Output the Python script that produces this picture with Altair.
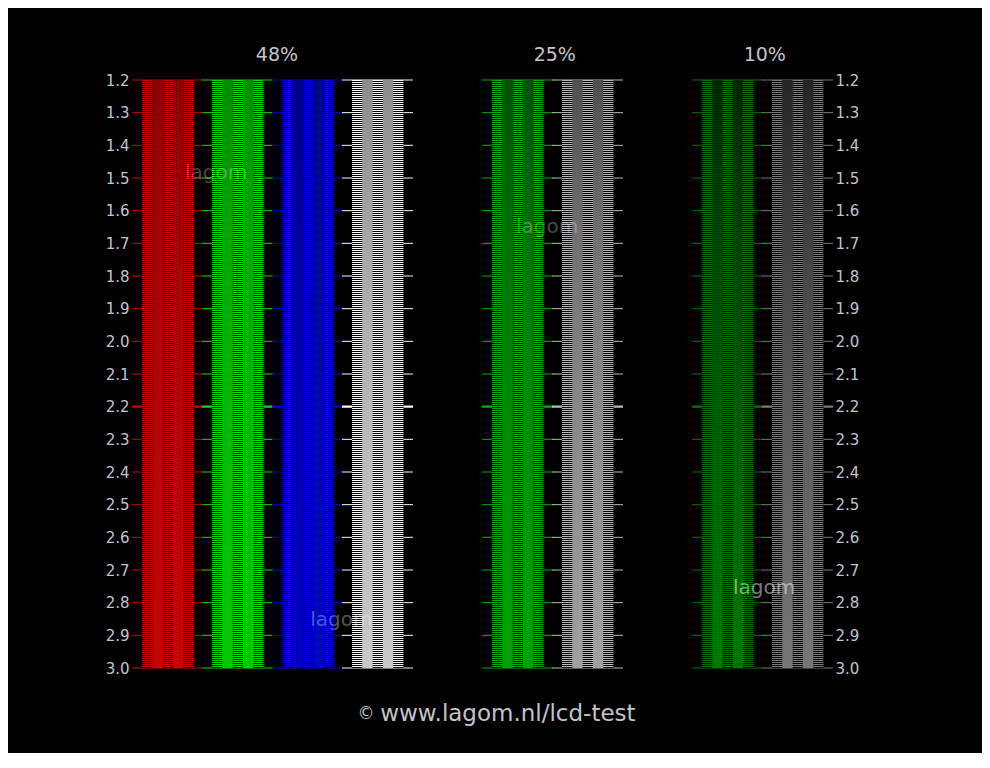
import altair as alt
import pandas as pd

# ---- data ----
levels = [1.2, 1.3, 1.4, 1.5, 1.6, 1.7, 1.8, 1.9, 2.0, 2.1, 2.2,
          2.3, 2.4, 2.5, 2.6, 2.7, 2.8, 2.9, 3.0]
groups = ["48%", "25%", "10%"]
group_title_x = [2.07, 6.04, 9.04]          # slot units

col_group = ["48%", "48%", "48%", "48%", "25%", "25%", "10%", "10%"]
col_slot = [0, 1, 2, 3, 5, 6, 8, 9]
col_channel = ["red", "green", "blue", "white", "green", "white", "green", "white"]

# stripe line intensity (0-255) per column
col_stripe = [205, 225, 215, 250, 175, 186, 118, 122]
# solid band intensity per group at gamma 1.2 / 1.7 / 2.2 / 3.0
solid_at_12 = [140, 80, 37]
solid_at_17 = [166, 113, 66]
solid_at_22 = [183, 136, 89]
solid_at_30 = [200, 160, 118]
stop_gammas = [1.2, 1.7, 2.2, 3.0]

marks_text = ["lagom", "lagom", "lagom", "lagom"]
marks_x = [1.2, 5.93, 2.99, 9.03]
marks_y = [1.485, 1.65, 2.853, 2.755]
marks_op = [0.28, 0.28, 0.33, 0.48]

footer_text = ["\u00a9", "www.lagom.nl/lcd-test"]
footer_x = [3.343, 5.37]
footer_size = [17, 23]

# ---- layout constants (slot = 70 px) ----
COL_OFF = 10 / 70
COL_W = 51.5 / 70
SUB = COL_W / 5
GRID_W = 71 / 70
YMIN, YMAX = levels[0], levels[-1]
LABEL = "#c4c4c4"
FONT = "DejaVu Sans"


def rgb(channel, v):
    r, g, b = {"red": (v, 0, 0), "green": (0, v, 0),
               "blue": (0, 0, v), "white": (v, v, v)}[channel]
    return "#{:02x}{:02x}{:02x}".format(r, g, b)


gi = {g: i for i, g in enumerate(groups)}

cols = pd.DataFrame({"group": col_group, "slot": col_slot, "ch": col_channel,
                     "lv": col_stripe})
cols["stripe"] = [rgb(c, v) for c, v in zip(cols.ch, cols.lv)]
cols["x0"] = cols.slot + COL_OFF
cols["x1"] = cols.x0 + COL_W
cols["xc"] = cols.x0 + COL_W / 2
cols["y0"] = YMIN
cols["y1"] = YMAX

grid_rows = []
for _, c in cols.iterrows():
    for lv in levels:
        grid_rows.append({"x": c.slot, "x2": c.slot + GRID_W, "y": lv,
                          "color": c.stripe, "w": 2.2 if abs(lv - 2.2) < 1e-9 else 1.0})
grid = pd.DataFrame(grid_rows)

yscale = alt.Scale(domain=[YMIN, YMAX], reverse=True, nice=False, zero=False)
xscale = alt.Scale(domain=[0, 10], nice=False, zero=False)

axis_common = dict(values=levels, format=".1f", labelColor=LABEL, labelFontSize=15,
                   labelFont=FONT, ticks=False, domain=False, grid=False,
                   labelPadding=3, labelFlush=False, labelOverlap=False, title=None)

grid_layer = alt.Chart(grid).mark_rule().encode(
    x=alt.X("x:Q", scale=xscale, axis=None),
    x2="x2:Q",
    y=alt.Y("y:Q", scale=yscale, axis=alt.Axis(orient="left", **axis_common)),
    color=alt.Color("color:N", scale=None),
    strokeWidth=alt.StrokeWidth("w:Q", scale=None),
)

black_layer = alt.Chart(cols).mark_rect(color="black").encode(
    x=alt.X("x0:Q", scale=xscale, axis=None),
    x2="x1:Q",
    y=alt.Y("y0:Q", scale=yscale, axis=alt.Axis(orient="right", **axis_common)),
    y2="y1:Q",
)

stripe_layer = alt.Chart(cols).mark_rule(strokeDash=[1, 1], strokeWidth=51.5, strokeCap="butt").encode(
    x=alt.X("xc:Q", scale=xscale, axis=None),
    y=alt.Y("y0:Q", axis=None),
    y2="y1:Q",
    color=alt.Color("stripe:N", scale=None),
)

solid_layers = []
for _, c in cols.iterrows():
    k = gi[c.group]
    vals = [solid_at_12[k], solid_at_17[k], solid_at_22[k], solid_at_30[k]]
    stops = [alt.GradientStop(color=rgb(c.ch, v), offset=(g - YMIN) / (YMAX - YMIN))
             for v, g in zip(vals, stop_gammas)]
    d = pd.DataFrame({"x0": [c.x0 + SUB, c.x0 + 3 * SUB],
                      "x1": [c.x0 + 2 * SUB, c.x0 + 4 * SUB],
                      "y0": [YMIN, YMIN], "y1": [YMAX, YMAX]})
    solid_layers.append(
        alt.Chart(d).mark_rect(
            color=alt.Gradient(gradient="linear", stops=stops, x1=0, x2=0, y1=0, y2=1)
        ).encode(
            x=alt.X("x0:Q", scale=xscale, axis=None), x2="x1:Q",
            y=alt.Y("y0:Q", axis=None), y2="y1:Q",
        )
    )

wm = pd.DataFrame({"t": marks_text, "x": marks_x, "y": marks_y, "op": marks_op})
wm_layer = alt.Chart(wm).mark_text(font=FONT, fontSize=20, color="white",
                                   baseline="middle", align="center").encode(
    x=alt.X("x:Q", scale=xscale, axis=None),
    y=alt.Y("y:Q", axis=None),
    text="t:N",
    opacity=alt.Opacity("op:Q", scale=None),
)

titles = pd.DataFrame({"t": groups, "x": group_title_x, "y": [YMIN] * 3})
title_layer = alt.Chart(titles).mark_text(font=FONT, fontSize=19, color=LABEL,
                                          baseline="middle", align="center", dy=-25).encode(
    x=alt.X("x:Q", scale=xscale, axis=None),
    y=alt.Y("y:Q", axis=None),
    text="t:N",
)

foot = pd.DataFrame({"t": footer_text, "x": footer_x, "y": [YMAX] * 2, "s": footer_size})
foot_layer = alt.Chart(foot).mark_text(font=FONT, color=LABEL,
                                       baseline="middle", align="center", dy=46).encode(
    x=alt.X("x:Q", scale=xscale, axis=None),
    y=alt.Y("y:Q", axis=None),
    text="t:N",
    size=alt.Size("s:Q", scale=None),
)

chart = alt.layer(
    grid_layer, black_layer, stripe_layer, *solid_layers, wm_layer, title_layer, foot_layer
).resolve_axis(y="independent").properties(
    width=700, height=588,
    padding={"left": 124, "top": 72, "right": 150, "bottom": 85},
    autosize=alt.AutoSizeParams(type="none"),
    background="black",
).configure_view(stroke=None)

chart.save("out.html", embed_options={"renderer": "svg", "actions": False})
